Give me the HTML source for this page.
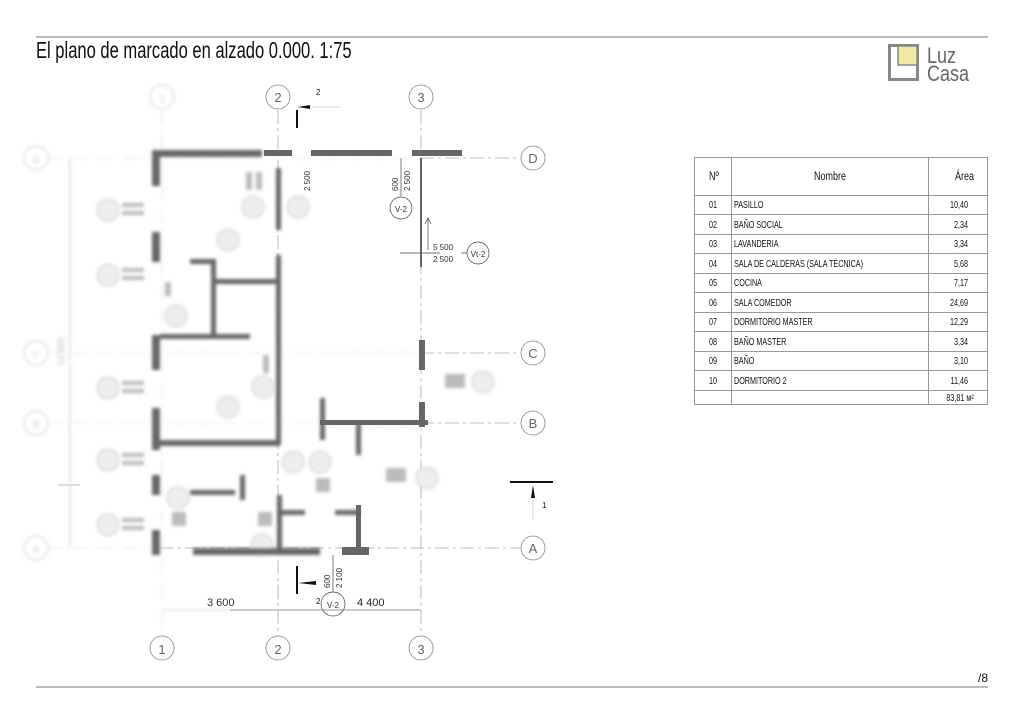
<!DOCTYPE html>
<html><head><meta charset="utf-8"><style>
body{margin:0;background:#fff;width:1024px;height:724px;overflow:hidden;font-family:"Liberation Sans",sans-serif}
svg{display:block}
</style></head><body>
<svg width="1024" height="724" viewBox="0 0 1024 724" xmlns="http://www.w3.org/2000/svg" font-family="Liberation Sans, sans-serif">
<defs><filter id="b" x="-5%" y="-5%" width="110%" height="110%"><feGaussianBlur stdDeviation="1.6"/></filter></defs>
<line x1="36" y1="37" x2="988" y2="37" stroke="#777" stroke-width="1"/>
<line x1="36" y1="687" x2="988" y2="687" stroke="#777" stroke-width="1"/>
<text x="36" y="58" font-size="23" transform="translate(36 0) scale(0.72 1) translate(-36 0)" fill="#111">El plano de marcado en alzado 0.000. 1:75</text>
<text x="978" y="682" font-size="12" fill="#111">/8</text>
<!-- logo -->
<rect x="889.5" y="45.5" width="28" height="34" fill="none" stroke="#888" stroke-width="3"/>
<rect x="898" y="46" width="19" height="19" fill="#f3e8a0" stroke="#888" stroke-width="1.5"/>
<text x="927" y="63" font-size="22" fill="#666" transform="translate(927 0) scale(0.82 1) translate(-927 0)">Luz</text>
<text x="927" y="81" font-size="22" fill="#666" transform="translate(927 0) scale(0.82 1) translate(-927 0)">Casa</text>
<!-- table -->
<g stroke="#999" stroke-width="1" fill="none">
<rect x="694.5" y="157.5" width="293" height="247"/>
<line x1="731.5" y1="157" x2="731.5" y2="405"/>
<line x1="928.5" y1="157" x2="928.5" y2="405"/>
<line x1="694" y1="195.5" x2="988" y2="195.5"/>
<line x1="694" y1="214.5" x2="988" y2="214.5"/>
<line x1="694" y1="234.5" x2="988" y2="234.5"/>
<line x1="694" y1="253.5" x2="988" y2="253.5"/>
<line x1="694" y1="273.5" x2="988" y2="273.5"/>
<line x1="694" y1="292.5" x2="988" y2="292.5"/>
<line x1="694" y1="312.5" x2="988" y2="312.5"/>
<line x1="694" y1="331.5" x2="988" y2="331.5"/>
<line x1="694" y1="351.5" x2="988" y2="351.5"/>
<line x1="694" y1="370.5" x2="988" y2="370.5"/>
<line x1="694" y1="390.5" x2="988" y2="390.5"/>
</g>
<g font-size="12" fill="#111">
<text x="709" y="180" transform="translate(709 0) scale(0.75 1) translate(-709 0)">Nº</text>
<text x="814" y="180" transform="translate(814 0) scale(0.75 1) translate(-814 0)">Nombre</text>
<text x="955" y="180" transform="translate(955 0) scale(0.75 1) translate(-955 0)">Área</text>
</g>
<g font-size="10" fill="#111">
<g transform="translate(709 0) scale(0.72 1)"><text x="0" y="208">01</text><text x="0" y="228">02</text><text x="0" y="247">03</text><text x="0" y="267">04</text><text x="0" y="286">05</text><text x="0" y="306">06</text><text x="0" y="325">07</text><text x="0" y="345">08</text><text x="0" y="364">09</text><text x="0" y="384">10</text></g>
<g transform="translate(734 0) scale(0.72 1)"><text x="0" y="208">PASILLO</text><text x="0" y="228">BAÑO SOCIAL</text><text x="0" y="247">LAVANDERIA</text><text x="0" y="267">SALA DE CALDERAS (SALA TÉCNICA)</text><text x="0" y="286">COCINA</text><text x="0" y="306">SALA COMEDOR</text><text x="0" y="325">DORMITORIO MASTER</text><text x="0" y="345">BAÑO MASTER</text><text x="0" y="364">BAÑO</text><text x="0" y="384">DORMITORIO 2</text></g>
<g transform="translate(968 0) scale(0.72 1)" text-anchor="end"><text x="0" y="208">10,40</text><text x="0" y="228">2,34</text><text x="0" y="247">3,34</text><text x="0" y="267">5,68</text><text x="0" y="286">7,17</text><text x="0" y="306">24,69</text><text x="0" y="325">12,29</text><text x="0" y="345">3,34</text><text x="0" y="364">3,10</text><text x="0" y="384">11,46</text><text x="8" y="401">83,81 м²</text></g>
</g>
<!-- grid lines -->
<g stroke="#aaa" stroke-width="0.8" stroke-dasharray="14 4 3 4" fill="none">
<line x1="278" y1="110" x2="278" y2="636"/>
<line x1="421" y1="110" x2="421" y2="636"/>
<line x1="160" y1="548" x2="520" y2="548"/>
<line x1="420" y1="158" x2="520" y2="158"/>
<line x1="420" y1="353" x2="520" y2="353"/>
<line x1="420" y1="423" x2="520" y2="423"/>
</g>
<g fill="#fff" stroke="#888" stroke-width="0.8">
<circle cx="278" cy="97" r="12"/><circle cx="421" cy="97" r="12"/>
<circle cx="278" cy="648" r="12"/><circle cx="421" cy="648" r="12"/><circle cx="162" cy="648" r="12"/>
<circle cx="533" cy="158" r="12"/><circle cx="533" cy="353" r="12"/><circle cx="533" cy="423" r="12"/><circle cx="533" cy="548" r="12"/>
</g>
<g font-size="13" fill="#666" text-anchor="middle">
<text x="278" y="102">2</text><text x="421" y="102">3</text>
<text x="278" y="654">2</text><text x="421" y="654">3</text><text x="162" y="654">1</text>
<text x="533" y="163">D</text><text x="533" y="358">C</text><text x="533" y="428">B</text><text x="533" y="553">A</text>
</g>
<!-- blurred plan -->
<g filter="url(#b)">
<g stroke="#ddd" stroke-width="0.8" stroke-dasharray="14 4 3 4" fill="none">
<line x1="162" y1="110" x2="162" y2="636"/>
<line x1="48" y1="158" x2="420" y2="158"/><line x1="48" y1="353" x2="420" y2="353"/><line x1="48" y1="423" x2="420" y2="423"/><line x1="48" y1="548" x2="160" y2="548"/>
</g>
<g fill="#fff" stroke="#ccc" stroke-width="1"><circle cx="162" cy="97" r="12"/><circle cx="36" cy="158" r="12"/><circle cx="36" cy="353" r="12"/><circle cx="36" cy="423" r="12"/><circle cx="36" cy="548" r="12"/></g>
<g fill="#eee" stroke="#ccc" stroke-width="1">
<circle cx="108" cy="210" r="11"/><circle cx="108" cy="275" r="11"/><circle cx="108" cy="388" r="11"/><circle cx="108" cy="460" r="11"/><circle cx="108" cy="525" r="11"/>
<circle cx="253" cy="207" r="11"/><circle cx="298" cy="207" r="11"/><circle cx="228" cy="240" r="11"/><circle cx="176" cy="316" r="11"/><circle cx="263" cy="387" r="11"/><circle cx="228" cy="407" r="11"/><circle cx="293" cy="462" r="11"/><circle cx="320" cy="462" r="11"/><circle cx="178" cy="498" r="11"/><circle cx="262" cy="545" r="11"/><circle cx="427" cy="478" r="11"/><circle cx="483" cy="382" r="11"/></g>
<g fill="#bbb">
<rect x="122" y="203" width="22" height="4"/><rect x="122" y="211" width="22" height="4"/>
<rect x="122" y="268" width="22" height="4"/><rect x="122" y="276" width="22" height="4"/>
<rect x="122" y="381" width="22" height="4"/><rect x="122" y="389" width="22" height="4"/>
<rect x="122" y="453" width="22" height="4"/><rect x="122" y="461" width="22" height="4"/>
<rect x="122" y="518" width="22" height="4"/><rect x="122" y="526" width="22" height="4"/>
<rect x="246" y="172" width="6" height="18"/><rect x="256" y="172" width="6" height="18"/>
<rect x="165" y="282" width="6" height="14"/><rect x="263" y="355" width="6" height="18"/>
<rect x="445" y="374" width="20" height="14"/><rect x="386" y="468" width="20" height="14"/>
<rect x="316" y="478" width="14" height="14"/><rect x="172" y="512" width="14" height="14"/><rect x="258" y="512" width="14" height="14"/>
</g>
<g fill="#ccc" font-size="10" text-anchor="middle"><text x="162" y="102">1</text><text x="36" y="163">D</text><text x="36" y="358">C</text><text x="36" y="428">B</text><text x="36" y="553">A</text></g>
<line x1="70" y1="158" x2="70" y2="548" stroke="#ccc"/>
<text x="64" y="365" font-size="9" fill="#bbb" transform="rotate(-90 64 365)">12 000</text>
<line x1="162" y1="610" x2="230" y2="610" stroke="#ccc"/>
<g fill="#666">
<rect x="152" y="150" width="110" height="7"/><rect x="152" y="150" width="8" height="36"/><rect x="152" y="232" width="8" height="30"/>
<rect x="152" y="335" width="8" height="35"/><rect x="152" y="408" width="8" height="42"/><rect x="152" y="475" width="8" height="20"/><rect x="152" y="530" width="8" height="25"/>
<rect x="276" y="168" width="5" height="62"/><rect x="276" y="255" width="5" height="190"/>
<rect x="190" y="259" width="25" height="5"/><rect x="211" y="259" width="5" height="75"/><rect x="213" y="279" width="65" height="5"/>
<rect x="160" y="334" width="90" height="5"/><rect x="160" y="440" width="120" height="6"/>
<rect x="320" y="398" width="5" height="42"/><rect x="356" y="423" width="5" height="32"/>
<rect x="190" y="490" width="45" height="5"/><rect x="240" y="475" width="5" height="25"/>
<rect x="193" y="548" width="127" height="7"/><rect x="277" y="495" width="5" height="55"/><rect x="280" y="510" width="25" height="5"/>
<rect x="335" y="510" width="25" height="5"/>
</g>
</g>
<!-- sharp plan parts -->
<g fill="#666">
<rect x="264" y="150" width="28" height="6"/><rect x="311" y="150" width="81" height="6"/><rect x="412" y="150" width="50" height="6"/>
<rect x="419" y="340" width="6" height="30"/><rect x="419" y="402" width="6" height="25"/>
<rect x="320" y="420" width="108" height="5"/><rect x="342" y="547" width="27" height="8"/><rect x="356" y="505" width="5" height="45"/>
</g>
<line x1="421" y1="158" x2="421" y2="267" stroke="#333" stroke-width="1.5"/>
<line x1="400" y1="253" x2="440" y2="253" stroke="#444" stroke-width="0.7"/>
<line x1="428" y1="218" x2="428" y2="250" stroke="#444" stroke-width="0.7"/>
<path d="M425 224 L428 218 L431 224" fill="none" stroke="#444" stroke-width="0.7"/>
<line x1="461" y1="253" x2="470" y2="253" stroke="#444" stroke-width="0.7"/>
<circle cx="478" cy="253" r="11" fill="#fff" stroke="#444" stroke-width="0.7"/>
<text x="478" y="257" font-size="8" text-anchor="middle" fill="#333">Vt-2</text>
<g font-size="8" fill="#333"><text x="433" y="250">5 500</text><text x="433" y="262">2 500</text></g>
<line x1="401" y1="158" x2="401" y2="196" stroke="#444" stroke-width="0.7"/>
<circle cx="401" cy="208" r="11" fill="#fff" stroke="#444" stroke-width="0.7"/>
<text x="401" y="212" font-size="8" text-anchor="middle" fill="#333">V-2</text>
<text x="398" y="191" font-size="8" fill="#333" transform="rotate(-90 398 191)">600</text>
<text x="410" y="191" font-size="8" fill="#333" transform="rotate(-90 410 191)">2 500</text>
<text x="310" y="191" font-size="8" fill="#333" transform="rotate(-90 310 191)">2 500</text>
<!-- section top -->
<line x1="297" y1="110" x2="297" y2="128" stroke="#111" stroke-width="2"/>
<line x1="298" y1="107" x2="340" y2="107" stroke="#aaa" stroke-width="0.6"/>
<path d="M298 107 L310 105 L310 109 Z" fill="#111"/>
<text x="316" y="95" font-size="8" fill="#111">2</text>
<!-- section right -->
<line x1="510" y1="482" x2="553" y2="482" stroke="#111" stroke-width="2"/>
<path d="M531 498 L533 485 L535 498 Z" fill="#111"/>
<line x1="533" y1="498" x2="533" y2="520" stroke="#ccc" stroke-width="0.8"/>
<text x="542" y="508" font-size="8" fill="#111">1</text>
<line x1="58" y1="485" x2="80" y2="485" stroke="#ddd" stroke-width="2"/>
<!-- section bottom -->
<line x1="297" y1="566" x2="297" y2="594" stroke="#111" stroke-width="2"/>
<path d="M298 583 L316 581 L316 585 Z" fill="#111"/>
<text x="316" y="604" font-size="8" fill="#111">2</text>
<line x1="333" y1="555" x2="333" y2="598" stroke="#444" stroke-width="0.7"/>
<circle cx="333" cy="604" r="12" fill="#fff" stroke="#444" stroke-width="0.7"/>
<text x="333" y="608" font-size="8" text-anchor="middle" fill="#333">V-2</text>
<text x="330" y="588" font-size="8" fill="#333" transform="rotate(-90 330 588)">600</text>
<text x="342" y="588" font-size="8" fill="#333" transform="rotate(-90 342 588)">2 100</text>
<!-- bottom dims -->
<line x1="230" y1="610" x2="421" y2="610" stroke="#777" stroke-width="0.7"/>
<text x="207" y="606" font-size="11" fill="#333">3 600</text>
<text x="357" y="606" font-size="11" fill="#222">4 400</text>
</svg>
</body></html>
